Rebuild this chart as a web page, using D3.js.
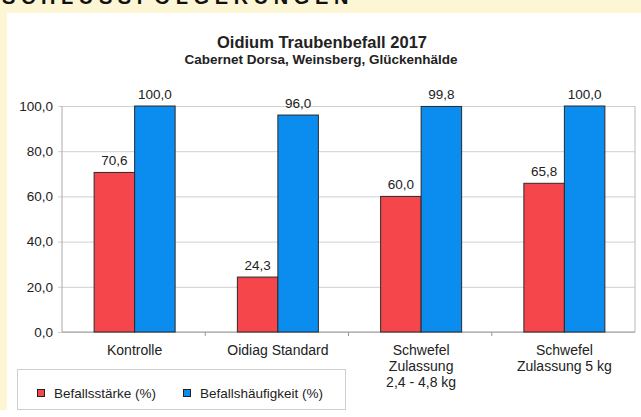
<!DOCTYPE html>
<html>
<head>
<meta charset="utf-8">
<script src="https://cdn.jsdelivr.net/npm/d3@7"></script>
<style>
  html, body { margin: 0; padding: 0; background: #fdf6d5; }
  svg { display: block; }
  text { font-family: "Liberation Sans", Arial, sans-serif; }
</style>
</head>
<body>
<script>
// Oidium infestation trial 2017 – grouped bar chart
const categories = [["Kontrolle"], ["Oidiag Standard"], ["Schwefel", "Zulassung", "2,4 - 4,8 kg"], ["Schwefel", "Zulassung 5 kg"]];
const seriesNames = ["Befallsstärke (%)", "Befallshäufigkeit (%)"];
const befallsstaerke = [70.6, 24.3, 60.0, 65.8];
const befallshaeufigkeit = [100.0, 96.0, 99.8, 100.0];
const yTicks = [0, 20, 40, 60, 80, 100];
const colors = ["#f5474b", "#0b8cef"];

const W = 641, H = 417;
const svg = d3.select("body").append("svg").attr("width", W).attr("height", H);

// page background and heading strip
svg.append("rect").attr("width", W).attr("height", H).attr("fill", "#fdf6d5");
svg.append("text").attr("x", 2).attr("y", 4)
  .attr("font-size", 20).attr("font-weight", "bold").attr("letter-spacing", 5.6)
  .attr("fill", "#111").text("SCHLUSSFOLGERUNGEN");
svg.append("rect").attr("x", 7).attr("y", 13).attr("width", W - 7).attr("height", 397).attr("fill", "#fff");
svg.append("rect").attr("x", 0).attr("y", 410).attr("width", W).attr("height", 7).attr("fill", "#fff");

// titles
svg.append("text").attr("x", 322).attr("y", 48).attr("text-anchor", "middle")
  .attr("font-size", 16.5).attr("font-weight", "bold").attr("fill", "#222")
  .text("Oidium Traubenbefall 2017");
svg.append("text").attr("x", 321).attr("y", 64).attr("text-anchor", "middle")
  .attr("font-size", 13.5).attr("font-weight", "bold").attr("fill", "#222")
  .text("Cabernet Dorsa, Weinsberg, Glückenhälde");

const plot = { left: 62, right: 635, top: 106, bottom: 332 };
const x = d3.scaleBand().domain(d3.range(categories.length)).range([plot.left, plot.right]);
const y = d3.scaleLinear().domain([0, 100]).range([plot.bottom, plot.top]);
const barW = 40.5;
const fmt = v => d3.format(".1f")(v).replace(".", ",");

// gridlines and y axis
const yAxis = d3.axisLeft(y).tickValues(yTicks).tickSize(-(plot.right - plot.left)).tickFormat(fmt).tickPadding(9);
const gy = svg.append("g").attr("transform", `translate(${plot.left},0)`).call(yAxis);
gy.select(".domain").remove();
gy.selectAll(".tick line").attr("stroke", "#d0d0d0").attr("x1", -4);
gy.selectAll(".tick text").attr("font-size", 13.5).attr("fill", "#222")
  .attr("font-family", "Liberation Sans, Arial, sans-serif");

// plot frame
svg.append("line").attr("x1", plot.left).attr("x2", plot.left).attr("y1", plot.top).attr("y2", plot.bottom).attr("stroke", "#aaa");
svg.append("line").attr("x1", plot.right).attr("x2", plot.right).attr("y1", plot.top).attr("y2", plot.bottom).attr("stroke", "#bbb");
svg.append("line").attr("x1", plot.left).attr("x2", plot.right).attr("y1", plot.bottom).attr("y2", plot.bottom).attr("stroke", "#999");

// category separators below the axis
const seps = d3.range(1, categories.length).map(i => x(i));
svg.selectAll(".sep").data(seps).join("line")
  .attr("x1", d => d).attr("x2", d => d).attr("y1", plot.bottom).attr("y2", plot.bottom + 4).attr("stroke", "#999");

// bars
const series = [befallsstaerke, befallshaeufigkeit];
series.forEach((vals, s) => {
  const g = svg.append("g");
  vals.forEach((v, i) => {
    const cx = x(i) + x.bandwidth() / 2 + 1;
    const bx = cx - barW + s * barW;
    g.append("rect").attr("x", bx).attr("y", y(v)).attr("width", barW).attr("height", y(0) - y(v))
      .attr("fill", colors[s]).attr("stroke", "#2a2a2a").attr("stroke-width", 1);
    g.append("text").attr("x", bx + barW / 2).attr("y", y(v) - 7).attr("text-anchor", "middle")
      .attr("font-size", 13.5).attr("fill", "#222").text(fmt(v));
  });
});

// category labels
categories.forEach((lines, i) => {
  const t = svg.append("text").attr("text-anchor", "middle").attr("font-size", 14).attr("fill", "#222");
  lines.forEach((l, k) => {
    t.append("tspan").attr("x", x(i) + x.bandwidth() / 2 + 1).attr("y", 355 + k * 16).text(l);
  });
});

// legend
const lg = svg.append("g");
lg.append("rect").attr("x", 17.5).attr("y", 369.5).attr("width", 328).attr("height", 40)
  .attr("fill", "#fff").attr("stroke", "#cfcfcf");
const legendX = [37, 183];
seriesNames.forEach((n, s) => {
  lg.append("rect").attr("x", legendX[s] + 0.5).attr("y", 389.5).attr("width", 7).attr("height", 7)
    .attr("fill", colors[s]).attr("stroke", "#222");
  lg.append("text").attr("x", legendX[s] + 17).attr("y", 398).attr("font-size", 13.5).attr("fill", "#222").text(n);
});
</script>
</body>
</html>
